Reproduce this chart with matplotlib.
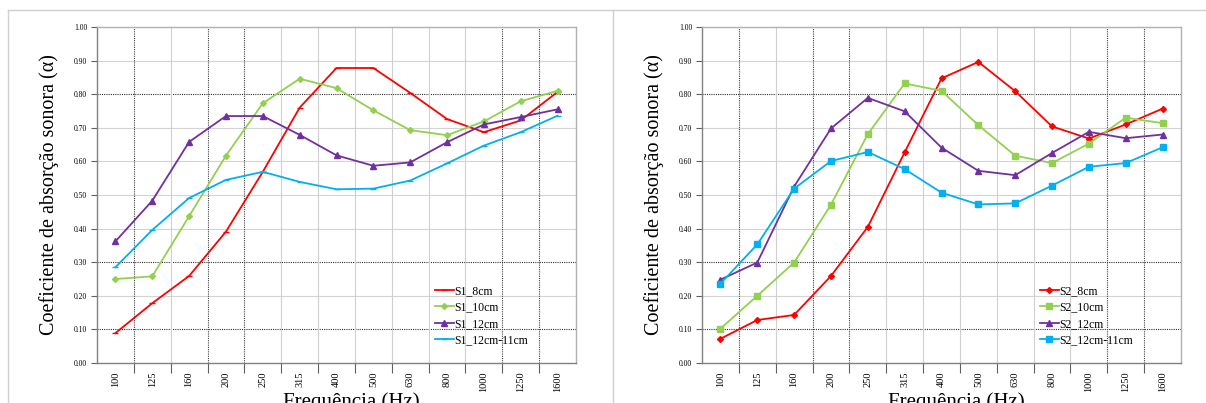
import matplotlib
matplotlib.use("Agg")
import matplotlib.pyplot as plt
from matplotlib.lines import Line2D
import numpy as np

plt.rcParams["font.family"] = ["Liberation Serif", "DejaVu Serif"]

freqs = ["100", "125", "160", "200", "250", "315", "400", "500", "630", "800", "1000", "1250", "1600"]

# Sample 1
s1_8cm = [0.089, 0.178, 0.259, 0.391, 0.569, 0.760, 0.878, 0.878, 0.804, 0.726, 0.687, 0.722, 0.807]
s1_10cm = [0.250, 0.258, 0.437, 0.617, 0.773, 0.846, 0.818, 0.752, 0.693, 0.678, 0.719, 0.779, 0.810]
s1_12cm = [0.362, 0.483, 0.658, 0.735, 0.735, 0.679, 0.618, 0.587, 0.597, 0.657, 0.710, 0.732, 0.755]
s1_12_11cm = [0.285, 0.396, 0.491, 0.545, 0.569, 0.539, 0.517, 0.519, 0.543, 0.594, 0.647, 0.687, 0.736]

# Sample 2
s2_8cm = [0.072, 0.128, 0.143, 0.259, 0.405, 0.627, 0.847, 0.896, 0.809, 0.704, 0.668, 0.710, 0.757]
s2_10cm = [0.102, 0.200, 0.299, 0.471, 0.681, 0.832, 0.810, 0.708, 0.617, 0.595, 0.653, 0.730, 0.714]
s2_12cm = [0.248, 0.299, 0.525, 0.698, 0.789, 0.749, 0.641, 0.572, 0.559, 0.625, 0.688, 0.669, 0.680]
s2_12_11cm = [0.236, 0.353, 0.519, 0.601, 0.628, 0.577, 0.507, 0.472, 0.475, 0.528, 0.584, 0.595, 0.642]

RED, GREEN, PURPLE, CYAN = "#FF0000", "#92D050", "#7030A0", "#00B0F0"

fig = plt.figure(figsize=(12.06, 4.03), dpi=100)

# light frame around the two panels
for art in [Line2D([8 / 1206, 1], [0.975, 0.975]),
            Line2D([8 / 1206, 8 / 1206], [0, 0.975]),
            Line2D([613 / 1206, 613 / 1206], [0, 0.975])]:
    art.set_color("#d0d0d0")
    art.set_linewidth(1)
    fig.add_artist(art)


def draw_panel(ax, series, markers, msizes):
    x = np.arange(len(freqs))
    ax.set_xlim(-0.5, len(freqs) - 0.5)
    ax.set_ylim(0, 1)

    # horizontal grid
    for yv in np.arange(0.1, 1.0, 0.1):
        dark = round(yv, 1) in (0.1, 0.3, 0.8)
        ax.axhline(yv, color="#303030" if dark else "#d4d4d4",
                   lw=0.8, ls=(0, (1, 1)) if dark else "-", zorder=0)
    # vertical grid at category boundaries
    dark_v = [0, 2, 3, 10, 11]
    for i in range(len(freqs) - 1):
        dark = i in dark_v
        ax.axvline(i + 0.5, color="#404040" if dark else "#d0d0d0",
                   lw=0.8, ls=(0, (1, 1)) if dark else "-", zorder=0)

    for (label, vals, color), mk, ms in zip(series, markers, msizes):
        ax.plot(x, vals, color=color, lw=1.3, marker=mk, ms=ms, label=label,
                markeredgecolor=color, zorder=3)

    ax.set_xticks(x)
    ax.set_xticklabels(freqs, rotation=90, fontsize=7.5)
    ax.set_xticks(np.arange(0.5, len(freqs) - 1, 1), minor=True)
    ax.tick_params(axis="x", which="major", length=0, pad=6)
    ax.tick_params(axis="x", which="minor", length=7, width=0.8, color="#606060")
    ax.set_yticks(np.arange(0, 1.01, 0.1))
    ax.set_yticklabels([f"{v:.2f}" for v in np.arange(0, 1.01, 0.1)], fontsize=5.5)
    ax.tick_params(axis="y", length=4, width=0.8, color="#606060", pad=3)

    for side in ["top", "right"]:
        ax.spines[side].set_color("#b0b0b0")
    for side in ["left", "bottom"]:
        ax.spines[side].set_color("#808080")
    for sp in ax.spines.values():
        sp.set_linewidth(1.0)

    ax.set_ylabel("Coeficiente de absorção sonora (α)", fontsize=14.5, labelpad=11)
    ax.set_xlabel("Frequência (Hz)", fontsize=15)
    ax.xaxis.set_label_coords(0.53, -0.088, transform=ax.transAxes)
    ax.xaxis.label.set_va("top")

    ax.legend(loc="lower left", bbox_to_anchor=(0.695, 0.035), frameon=False,
              fontsize=8.5, handlelength=1.6, handletextpad=0.1, labelspacing=0.38,
              borderaxespad=0)


ax1 = fig.add_axes([97 / 1206, 1 - 363 / 403, 479 / 1206, 336 / 403])
draw_panel(ax1,
           [("S1_8cm", s1_8cm, RED), ("S1_10cm", s1_10cm, GREEN),
            ("S1_12cm", s1_12cm, PURPLE), ("S1_12cm-11cm", s1_12_11cm, CYAN)],
           ["_", "D", "^", "_"], [4, 3, 4.5, 4])

ax2 = fig.add_axes([702 / 1206, 1 - 363 / 403, 479 / 1206, 336 / 403])
draw_panel(ax2,
           [("S2_8cm", s2_8cm, RED), ("S2_10cm", s2_10cm, GREEN),
            ("S2_12cm", s2_12cm, PURPLE), ("S2_12cm-11cm", s2_12_11cm, CYAN)],
           ["D", "s", "^", "s"], [3, 5, 4.5, 5])

fig.savefig("out.png", dpi=100)
